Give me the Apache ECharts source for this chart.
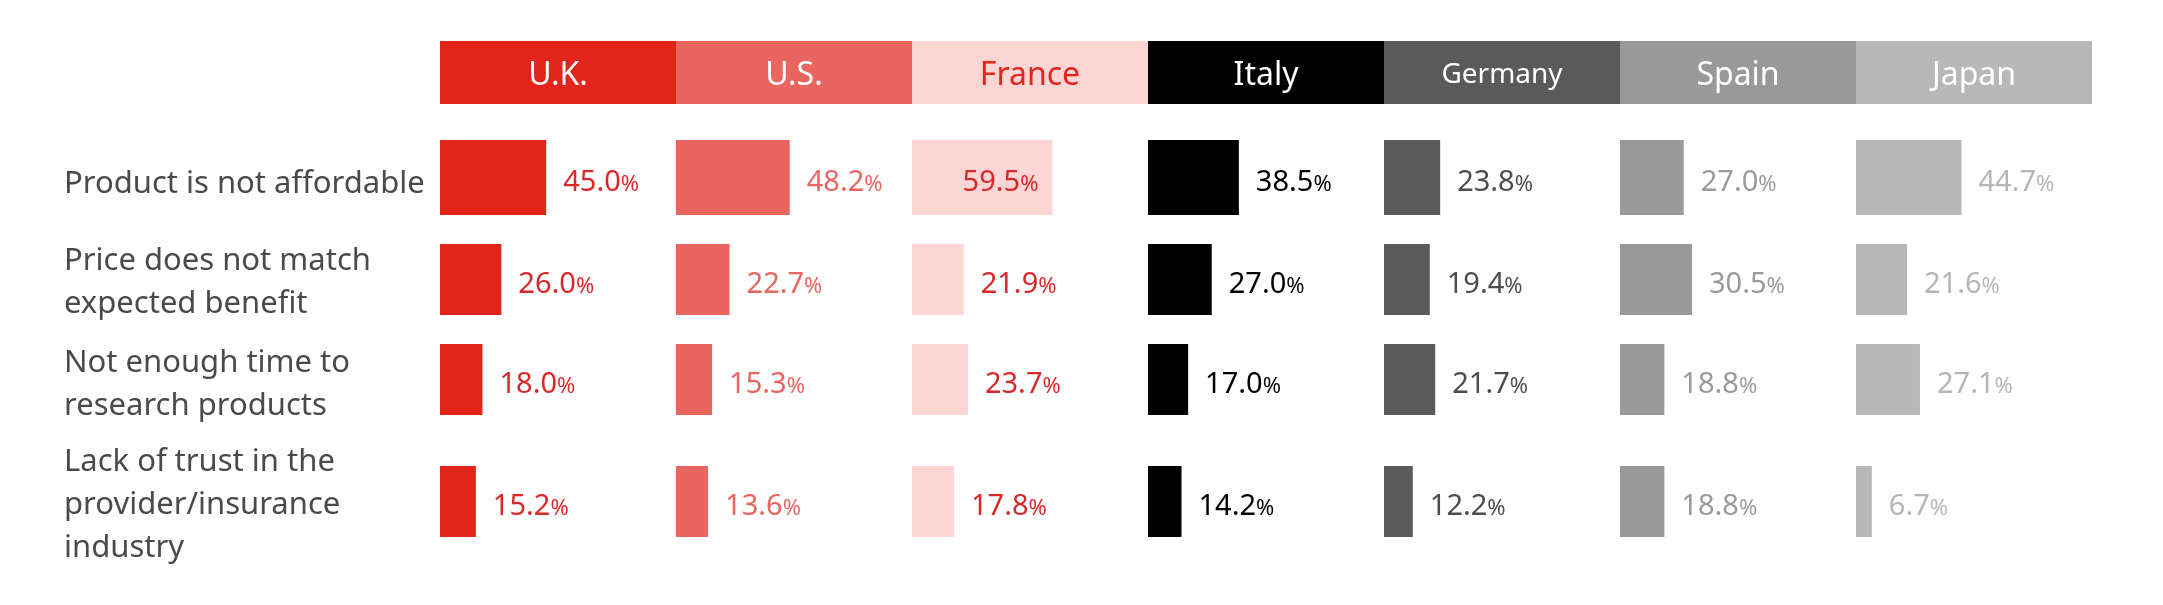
<!DOCTYPE html>
<html>
<head>
<meta charset="utf-8">
<script src="https://cdn.jsdelivr.net/npm/echarts@6/dist/echarts.min.js"></script>
<style>
html,body{margin:0;padding:0;background:#fff;}
#chart{width:2163px;height:605px;}
</style>
</head>
<body>
<div id="chart"></div>
<script>
// ---- data ----
const countries = ['U.K.', 'U.S.', 'France', 'Italy', 'Germany', 'Spain', 'Japan'];
const reasons = [
  'Product is not affordable',
  'Price does not match\nexpected benefit',
  'Not enough time to\nresearch products',
  'Lack of trust in the\nprovider/insurance\nindustry'
];
const ukValues      = [45.0, 26.0, 18.0, 15.2];
const usValues      = [48.2, 22.7, 15.3, 13.6];
const franceValues  = [59.5, 21.9, 23.7, 17.8];
const italyValues   = [38.5, 27.0, 17.0, 14.2];
const germanyValues = [23.8, 19.4, 21.7, 12.2];
const spainValues   = [27.0, 30.5, 18.8, 18.8];
const japanValues   = [44.7, 21.6, 27.1, 6.7];
const allValues = [ukValues, usValues, franceValues, italyValues, germanyValues, spainValues, japanValues];

// ---- style / layout ----
const FONT = '"Noto Sans", "Open Sans", sans-serif';
const barColors   = ['#E1251B', '#E8665F', '#FDD5D5', '#000000', '#5A5A5A', '#999999', '#B8B8B8'];
const labelColors = ['#D9282A', '#E8665F', '#D9282A', '#000000', '#4D4D4D', '#9A9A9A', '#B5B5B5'];
const headTextColors = ['#FFFFFF', '#FFFFFF', '#E1251B', '#FFFFFF', '#FFFFFF', '#FFFFFF', '#FFFFFF'];
const headFontSizes = [32, 32, 32, 32, 28, 32, 32];
const colLeft0 = 440, colW = 236;
const rowTop = [140, 244, 344, 466];
const rowH = [75, 71, 71, 71];
const rowLabelShift = [7, 3, 5, 4];
const headTop = 41, headH = 63;

const option = { animation: false, grid: [], xAxis: [], yAxis: [], series: [], graphic: [] };

countries.forEach((name, c) => {
  const left = colLeft0 + c * colW;
  option.graphic.push({
    type: 'rect', left: left, top: headTop,
    shape: { width: colW, height: headH }, style: { fill: barColors[c] }
  });
  option.graphic.push({
    type: 'text', x: left + colW / 2, y: headTop + headH / 2 + 3,
    style: { text: name, fill: headTextColors[c], font: headFontSizes[c] + 'px ' + FONT,
             align: 'center', verticalAlign: 'middle' }
  });
  reasons.forEach((reason, r) => {
    const idx = option.grid.length;
    option.grid.push({ left: left, top: rowTop[r], width: colW, height: rowH[r], outerBoundsMode: 'none' });
    option.xAxis.push({ gridIndex: idx, type: 'value', min: 0, max: 100, show: false });
    const lblStyle = { fontFamily: FONT, fontSize: 31, lineHeight: 43, color: '#4A4A4A', align: 'left',
                       padding: [rowLabelShift[r] * 2, 0, 0, 0] };
    option.yAxis.push({
      gridIndex: idx, type: 'category', data: [reason],
      axisLine: { show: false }, axisTick: { show: false },
      axisLabel: {
        show: c === 0, align: 'left', margin: left - 64,
        fontFamily: FONT, fontSize: 31, lineHeight: 43, color: '#4A4A4A',
        formatter: v => v.split('\n').map(l => '{f|' + l + '}').join('\n'),
        rich: { f: lblStyle }
      }
    });
    const v = allValues[c][r];
    const inside = v > 55;
    option.series.push({
      type: 'bar', xAxisIndex: idx, yAxisIndex: idx, barWidth: '100%',
      data: [v], itemStyle: { color: barColors[c] },
      label: {
        show: true, position: inside ? 'insideRight' : 'right', distance: inside ? 14 : 17,
        offset: [0, 5],
        formatter: p => '{n|' + p.value.toFixed(1) + '}{p|%}',
        rich: {
          n: { fontFamily: FONT, fontSize: 29, color: labelColors[c] },
          p: { fontFamily: FONT, fontSize: 22, color: labelColors[c], padding: [5, 0, 0, 0] }
        }
      }
    });
  });
});

const chart = echarts.init(document.getElementById('chart'));
chart.setOption(option);
</script>
</body>
</html>
